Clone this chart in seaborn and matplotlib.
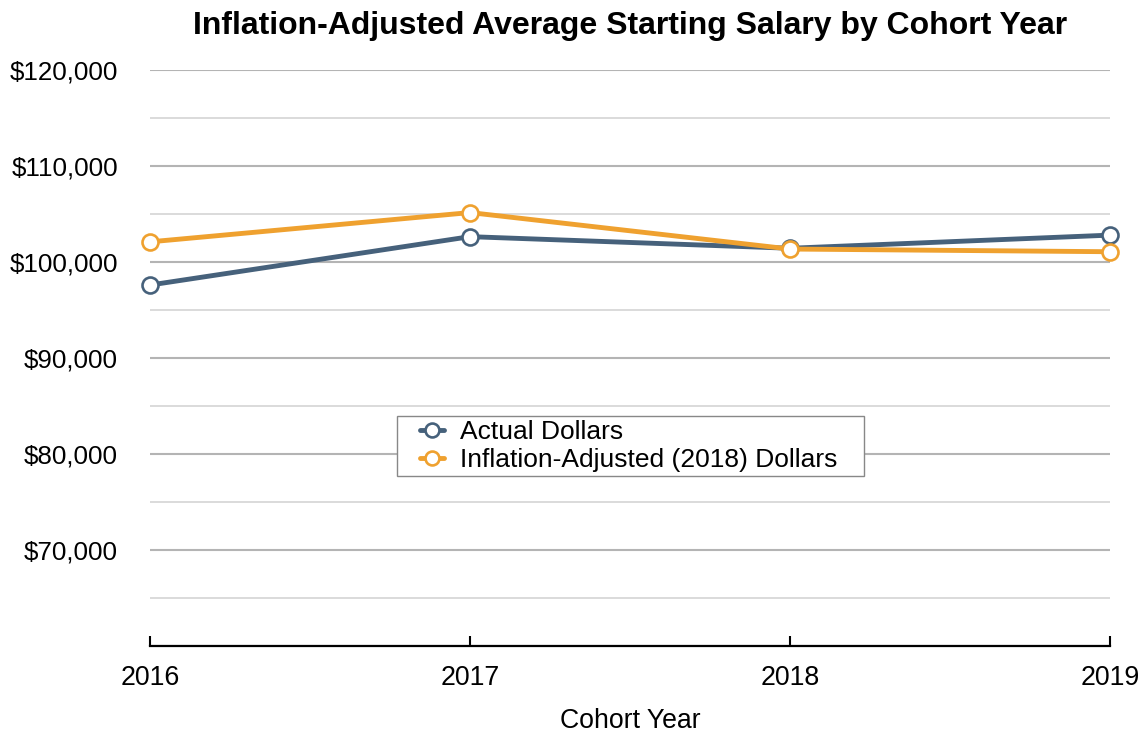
"""Inflation-adjusted starting salary line chart"""
import matplotlib
matplotlib.use('Agg')
import matplotlib.pyplot as plt
import seaborn as sns
import pandas as pd
from matplotlib.patches import Rectangle
from matplotlib.ticker import FuncFormatter, MultipleLocator

years = [2016, 2017, 2018, 2019]
actual = [97600, 102640, 101430, 102800]
adjusted = [102100, 105150, 101350, 101070]
series_names = ["Actual Dollars", "Inflation-Adjusted (2018) Dollars"]
colors = ["#46617b", "#efa12f"]

df = pd.DataFrame({
    "year": years * 2,
    "salary": actual + adjusted,
    "series": [series_names[0]] * 4 + [series_names[1]] * 4,
})

sns.set_theme(style="white")
plt.rcParams['font.family'] = ['Liberation Sans', 'DejaVu Sans']
plt.rcParams['text.color'] = 'black'
plt.rcParams['xtick.color'] = 'black'
plt.rcParams['ytick.color'] = 'black'
plt.rcParams['axes.labelcolor'] = 'black'

fig = plt.figure(figsize=(11.46, 7.34), dpi=100)
ax = fig.add_axes([150 / 1146, 1 - 646 / 734, 960 / 1146, 576 / 734])

for name, col in zip(series_names, colors):
    sub = df[df["series"] == name]
    sns.lineplot(data=sub, x="year", y="salary", ax=ax, color=col, linewidth=3.5,
                 marker="o", markersize=11.5, markerfacecolor="white",
                 markeredgecolor=col, markeredgewidth=1.9, label=name,
                 legend=False, clip_on=False, zorder=3)

ax.set_xlim(2016, 2019)
ax.set_ylim(60000, 120000)
ax.set_xticks(years)
ax.set_xticklabels([str(y) for y in years])
ax.yaxis.set_major_locator(MultipleLocator(10000))
ax.yaxis.set_minor_locator(MultipleLocator(5000))
ax.yaxis.set_major_formatter(FuncFormatter(lambda v, p: "" if v <= 60000 else "${:,.0f}".format(v)))

ax.grid(True, axis="y", which="major", color="#b4b4b4", linewidth=1.5)
ax.grid(True, axis="y", which="minor", color="#d4d4d4", linewidth=1.2)
ax.set_axisbelow(True)

for s in ["top", "right", "left"]:
    ax.spines[s].set_visible(False)
ax.spines["bottom"].set_color("black")
ax.spines["bottom"].set_linewidth(1.6)

ax.tick_params(axis="x", direction="in", length=7, width=1.5, color="black",
               labelsize=19.3, pad=14, bottom=True)
ax.tick_params(axis="y", which="both", length=0, labelsize=18.7, pad=23)

ax.set_xlabel("Cohort Year", fontsize=19.2, labelpad=12)
ax.set_ylabel("")
ax.set_title("Inflation-Adjusted Average Starting Salary by Cohort Year",
             fontsize=23, fontweight="bold", pad=26)

handles, labels = ax.get_legend_handles_labels()
leg = fig.legend(handles, labels, loc="upper left",
                 bbox_to_anchor=(420 / 1146, 1 - 420 / 734),
                 borderaxespad=0, fontsize=19.0, frameon=False,
                 handlelength=0.9, handletextpad=0.6,
                 labelspacing=0.15, borderpad=0.0)
for h in leg.get_lines():
    h.set_markersize(10)
leg.set_zorder(5)

# legend box: wider horizontal padding than vertical, like the reference
fig.canvas.draw()
bb = leg.get_window_extent()
box = Rectangle((bb.x0 - 23, bb.y0 - 4), bb.width + 50, bb.height + 8,
                transform=None, fill=True, facecolor="white",
                edgecolor="#888888", linewidth=1.0, zorder=4)
fig.patches.append(box)

fig.savefig("out.png", dpi=100)
